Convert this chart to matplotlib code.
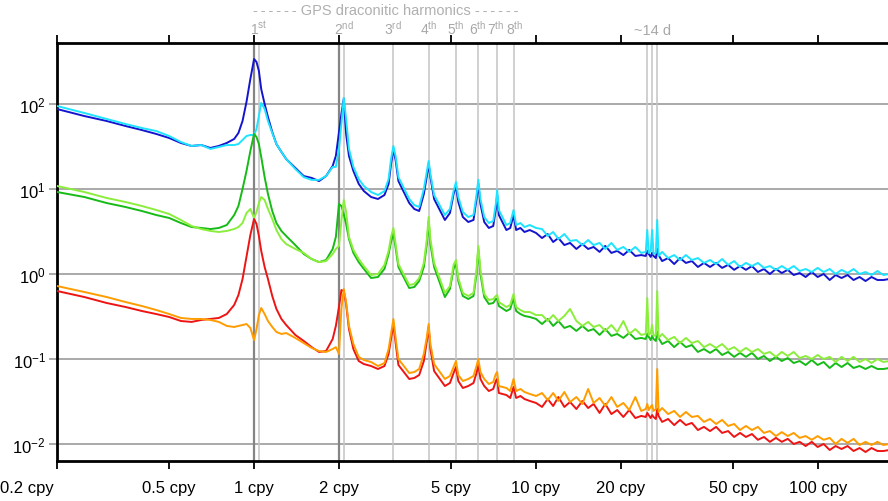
import numpy as np
import matplotlib
matplotlib.use("Agg")
import matplotlib.pyplot as plt
import matplotlib.transforms as mtransforms

plt.rcParams['font.family'] = ['Liberation Sans', 'DejaVu Sans']
plt.rcParams['mathtext.fontset'] = 'custom'
plt.rcParams['mathtext.rm'] = 'Liberation Sans'
plt.rcParams['mathtext.it'] = 'Liberation Sans:italic'
plt.rcParams['mathtext.bf'] = 'Liberation Sans:bold'

# ---------------- data (cpy, PSD) ----------------
freq_low = [0.2, 0.25, 0.3, 0.35, 0.4, 0.45, 0.5, 0.55, 0.6, 0.65, 0.7, 0.75, 0.8, 0.85, 0.88, 0.91,
            0.94, 0.97, 1.0, 1.02, 1.04, 1.06, 1.09, 1.12, 1.16, 1.2, 1.25, 1.3, 1.4, 1.5, 1.6, 1.7,
            1.8, 1.9, 1.95, 2.0, 2.04, 2.08, 2.12, 2.17, 2.25, 2.35, 2.45, 2.6, 2.75, 2.9, 3.0, 3.06,
            3.12, 3.18, 3.25, 3.55, 3.7, 3.85, 4.0, 4.1, 4.16, 4.22, 4.35, 4.75, 4.95, 5.1, 5.2, 5.3,
            5.5, 5.75, 6.0, 6.15, 6.24, 6.35, 6.55, 6.8, 7.05, 7.2, 7.28, 7.38, 7.85, 8.1, 8.32, 8.5,
            8.8, 9.1, 9.5, 10.0]
freq_high = [10.5, 11, 11.5, 12, 12.6, 13.2, 13.9, 14.6, 15.3, 16, 16.8, 17.6, 18.5, 19.4, 20.4,
             21.4, 22.5, 23.6, 24.5, 24.8, 25.1, 25.5, 25.8, 26.1, 26.6, 26.9, 27.2, 28, 29.4, 30.9,
             32.4, 34, 35.7, 37.5, 39.4, 41.4, 43.5, 45.7, 48, 50.4, 52.9, 55.5, 58.3, 61.2, 64.3,
             67.5, 70.9, 74.4, 78.1, 82, 86.1, 90.4, 95, 99.7, 104.7, 110, 115.5, 121.2, 127.3,
             133.7, 140.4, 147.4, 154.8, 162.5, 170.6, 179]

blue_low = [87.3, 72.2, 63.1, 55.1, 49.4, 44.4, 39.8, 34.8, 32.1, 32.9, 30.4, 32.1, 34.8, 38.8, 45.6,
            63.1, 106, 197, 338, 312, 245, 150, 100, 70.3, 46.8, 33.8, 27.3, 22.5, 17.7, 14.2, 13.5,
            12.4, 14.2, 18.7, 24.5, 46.8, 76.3, 115, 44.4, 24.5, 16.3, 11.5, 9.47, 8.05, 7.63, 8.50,
            11.5, 19.7, 29.6, 21.4, 12.4, 6.84, 5.82, 5.51, 8.73, 14.2, 19.7, 13.8, 7.63, 4.32, 5.22,
            8.73, 10.85, 7.03, 4.68, 4.09, 4.32, 7.63, 11.5, 6.66, 4.09, 3.48, 3.67, 5.82, 8.50, 4.94,
            3.29, 3.48, 4.94, 3.29, 3.48, 3.12, 3.29, 3.04]
blue_high = [2.65, 2.95, 2.38, 2.65, 2.19, 2.32, 1.97, 2.25, 1.97, 2.08, 1.82, 2.14, 1.77, 1.87, 1.67,
             1.92, 1.63, 1.67, 1.63, 1.87, 1.72, 1.59, 1.77, 1.63, 1.54, 1.97, 1.67, 1.42, 1.54, 1.31,
             1.54, 1.35, 1.42, 1.21, 1.35, 1.21, 1.35, 1.18, 1.28, 1.12, 1.24, 1.12, 1.24, 1.056, 1.145,
             1.00, 1.145, 1.027, 1.12, 0.973, 1.027, 0.922, 1.056, 0.922, 1.00, 0.850, 0.973, 0.897,
             0.973, 0.850, 0.922, 0.827, 0.922, 0.850, 0.850, 0.873]

cyan_low = [94.7, 78.4, 66.6, 58.2, 52.2, 48.1, 42.0, 35.7, 32.1, 32.9, 29.6, 31.2, 32.9, 32.9, 33.8,
            37.7, 42.0, 43.2, 43.2, 50.8, 72.2, 103, 87.3, 63.1, 45.6, 33.8, 27.3, 22.5, 17.2, 13.8,
            12.8, 12.8, 14.2, 18.2, 18.2, 29.6, 58.2, 118, 66.6, 29.6, 18.2, 13.1, 10.85, 9.22, 8.50,
            9.47, 13.1, 22.5, 32.1, 23.8, 13.8, 7.63, 6.48, 6.14, 10.0, 16.3, 21.4, 15.0, 8.50, 4.94,
            5.82, 9.47, 12.1, 8.05, 5.36, 4.68, 4.94, 8.50, 12.8, 7.63, 4.68, 3.98, 4.20, 6.66, 9.73,
            5.66, 3.77, 3.98, 5.66, 3.77, 3.98, 3.57, 3.77, 3.48]
cyan_high = [3.38, 2.80, 3.12, 2.58, 2.95, 2.45, 2.51, 2.19, 2.51, 2.19, 2.32, 1.97, 2.32, 1.92, 2.08,
             1.82, 2.08, 1.77, 1.82, 3.29, 1.77, 1.87, 3.29, 1.72, 1.77, 4.32, 1.63, 1.82, 1.54, 1.67,
             1.46, 1.67, 1.46, 1.54, 1.35, 1.46, 1.31, 1.50, 1.28, 1.42, 1.21, 1.35, 1.24, 1.35, 1.18,
             1.24, 1.12, 1.24, 1.12, 1.24, 1.085, 1.145, 1.056, 1.18, 1.056, 1.145, 1.00, 1.12, 1.027,
             1.145, 1.00, 1.056, 0.973, 1.085, 0.973, 1.00]

green_low = [9.22, 8.05, 6.84, 6.14, 5.51, 4.94, 4.56, 3.98, 3.57, 3.48, 3.38, 3.48, 3.77, 4.94, 6.31,
             10.0, 16.3, 28.0, 44.4, 40.9, 33.8, 23.8, 13.8, 8.73, 5.51, 3.98, 3.21, 2.80, 2.19, 1.72,
             1.50, 1.38, 1.46, 1.97, 2.73, 6.66, 6.31, 5.08, 3.88, 2.58, 1.77, 1.38, 1.15, 0.897, 0.922,
             1.15, 1.72, 2.38, 3.04, 1.97, 1.21, 0.684, 0.703, 0.827, 1.21, 2.25, 4.20, 2.25, 1.21,
             0.536, 0.666, 1.15, 1.35, 0.827, 0.551, 0.508, 0.551, 1.00, 1.97, 1.00, 0.536, 0.444,
             0.456, 0.508, 0.508, 0.420, 0.367, 0.388, 0.522, 0.367, 0.338, 0.321, 0.312, 0.296]
green_high = [0.258, 0.296, 0.245, 0.280, 0.232, 0.245, 0.214, 0.245, 0.214, 0.225, 0.192, 0.225, 0.187,
              0.197, 0.177, 0.202, 0.172, 0.177, 0.172, 0.197, 0.182, 0.167, 0.187, 0.172, 0.163, 0.208,
              0.177, 0.150, 0.163, 0.138, 0.1585, 0.138, 0.146, 0.121, 0.131, 0.118, 0.131, 0.1115,
              0.121, 0.106, 0.118, 0.106, 0.118, 0.100, 0.1085, 0.0947, 0.106, 0.0947, 0.1027, 0.0897,
              0.0947, 0.0850, 0.0973, 0.0850, 0.0922, 0.0784, 0.0897, 0.0805, 0.0897, 0.0784, 0.0827,
              0.0763, 0.0827, 0.0763, 0.0763, 0.0784]

lime_low = [10.85, 9.22, 7.84, 7.03, 6.31, 5.66, 5.08, 4.32, 3.67, 3.38, 3.21, 3.12, 3.21, 3.38, 3.57,
            3.98, 5.22, 5.82, 4.56, 5.36, 6.84, 8.05, 7.42, 5.82, 4.44, 3.29, 2.58, 2.25, 1.97, 1.77,
            1.50, 1.38, 1.42, 1.72, 1.97, 2.14, 4.20, 7.42, 5.36, 2.73, 1.92, 1.50, 1.24, 0.973, 1.00,
            1.28, 1.87, 2.73, 3.48, 2.19, 1.31, 0.742, 0.763, 0.897, 1.35, 2.58, 4.68, 2.58, 1.35,
            0.598, 0.722, 1.28, 1.46, 0.897, 0.598, 0.551, 0.598, 1.12, 2.14, 1.12, 0.582, 0.494,
            0.508, 0.551, 0.566, 0.468, 0.409, 0.432, 0.582, 0.409, 0.377, 0.357, 0.357, 0.329]
lime_high = [0.329, 0.280, 0.329, 0.280, 0.321, 0.388, 0.280, 0.245, 0.273, 0.238, 0.251, 0.214, 0.251,
             0.208, 0.280, 0.197, 0.225, 0.192, 0.197, 0.522, 0.192, 0.202, 0.251, 0.187, 0.192, 0.631,
             0.177, 0.197, 0.167, 0.182, 0.154, 0.177, 0.154, 0.163, 0.138, 0.150, 0.135, 0.150, 0.128,
             0.138, 0.121, 0.135, 0.121, 0.131, 0.115, 0.121, 0.106, 0.121, 0.1085, 0.121, 0.1027,
             0.1085, 0.100, 0.1115, 0.100, 0.106, 0.0922, 0.106, 0.0947, 0.106, 0.0922, 0.100, 0.0897,
             0.100, 0.0922, 0.0947]

red_low = [0.631, 0.536, 0.456, 0.409, 0.367, 0.338, 0.312, 0.280, 0.273, 0.288, 0.296, 0.304, 0.338,
           0.432, 0.566, 0.873, 1.59, 2.88, 4.44, 3.88, 2.80, 1.87, 1.21, 0.873, 0.551, 0.388, 0.296,
           0.251, 0.192, 0.163, 0.138, 0.121, 0.124, 0.172, 0.245, 0.409, 0.648, 0.631, 0.444, 0.225,
           0.131, 0.0947, 0.0873, 0.0827, 0.0763, 0.0827, 0.115, 0.172, 0.258, 0.150, 0.0850, 0.0582,
           0.0598, 0.0648, 0.0947, 0.163, 0.238, 0.131, 0.0722, 0.0481, 0.0522, 0.0684, 0.0805, 0.0551,
           0.0456, 0.0481, 0.0522, 0.0684, 0.0850, 0.0582, 0.0481, 0.0420, 0.0444, 0.0551, 0.0582,
           0.0398, 0.0377, 0.0348, 0.0468, 0.0348, 0.0367, 0.0338, 0.0321, 0.0304]
red_high = [0.0273, 0.0338, 0.0280, 0.0357, 0.0273, 0.0312, 0.0258, 0.0321, 0.0265, 0.0296, 0.0232,
            0.0296, 0.0225, 0.0251, 0.0208, 0.0251, 0.0202, 0.0214, 0.0208, 0.0232, 0.0219, 0.0202,
            0.0219, 0.0208, 0.0197, 0.0258, 0.0214, 0.0182, 0.0197, 0.0167, 0.0192, 0.0167, 0.0177,
            0.0146, 0.0159, 0.0142, 0.0159, 0.0135, 0.0142, 0.0121, 0.0135, 0.0121, 0.0131, 0.0112,
            0.0121, 0.0106, 0.0118, 0.0106, 0.0115, 0.0100, 0.0106, 0.00947, 0.0106, 0.00922, 0.0100,
            0.00850, 0.00947, 0.00873, 0.00947, 0.00827, 0.00897, 0.00805, 0.00897, 0.00827, 0.00827,
            0.00850]

orange_low = [0.722, 0.614, 0.536, 0.468, 0.420, 0.377, 0.338, 0.304, 0.296, 0.296, 0.288, 0.273, 0.245,
              0.238, 0.245, 0.251, 0.258, 0.232, 0.167, 0.225, 0.329, 0.398, 0.338, 0.280, 0.238, 0.208,
              0.197, 0.202, 0.177, 0.154, 0.135, 0.124, 0.121, 0.131, 0.138, 0.115, 0.388, 0.666, 0.468,
              0.245, 0.150, 0.106, 0.0973, 0.0922, 0.0827, 0.0897, 0.131, 0.197, 0.296, 0.172, 0.100,
              0.0684, 0.0703, 0.0763, 0.115, 0.182, 0.258, 0.150, 0.0873, 0.0582, 0.0631, 0.0805,
              0.0947, 0.0648, 0.0551, 0.0582, 0.0631, 0.0827, 0.100, 0.0703, 0.0582, 0.0508, 0.0536,
              0.0666, 0.0703, 0.0481, 0.0456, 0.0420, 0.0582, 0.0420, 0.0444, 0.0409, 0.0388, 0.0367]
orange_high = [0.0398, 0.0329, 0.0398, 0.0321, 0.0409, 0.0312, 0.0357, 0.0296, 0.0444, 0.0304, 0.0348,
               0.0280, 0.0357, 0.0273, 0.0304, 0.0251, 0.0357, 0.0245, 0.0258, 0.0296, 0.0251, 0.0273,
               0.0288, 0.0245, 0.0258, 0.0763, 0.0238, 0.0265, 0.0225, 0.0245, 0.0208, 0.0238, 0.0208,
               0.0214, 0.0182, 0.0197, 0.0172, 0.0192, 0.0163, 0.0172, 0.0146, 0.0163, 0.0146, 0.0159,
               0.0135, 0.0142, 0.0124, 0.0138, 0.0124, 0.0135, 0.0118, 0.0124, 0.0112, 0.0124, 0.0112,
               0.0118, 0.0100, 0.0115, 0.0103, 0.0115, 0.00973, 0.0106, 0.00973, 0.0106, 0.00973, 0.0100]

annual_freqs = [1.0, 2.0]
draconitic_freqs = [1.04, 2.08, 3.12, 4.16, 5.20, 6.24, 7.28, 8.32]
draconitic_labels = ["1", "2", "3", "4", "5", "6", "7", "8"]
draconitic_suffix = ["st", "nd", "rd", "th", "th", "th", "th", "th"]
fortnight_freqs = [24.8, 25.8, 26.9]
fortnight_label = "~14 d"
dash = "-\u2009" * 5 + "-"
title_text = dash + " GPS draconitic harmonics " + dash

xtick_values = [0.2, 0.5, 1, 2, 5, 10, 20, 50, 100]
xtick_labels = ["0.2 cpy", "0.5 cpy", "1 cpy", "2 cpy", "5 cpy", "10 cpy", "20 cpy", "50 cpy", "100 cpy"]
ytick_values = [1e-2, 1e-1, 1e0, 1e1, 1e2]
ytick_labels = [r"$10^{-2}$", r"$10^{-1}$", r"$10^{0}$", r"$10^{1}$", r"$10^{2}$"]

# ---------------- figure ----------------
W, H = 888, 502
fig = plt.figure(figsize=(W / 100, H / 100), dpi=100)
ax = fig.add_axes([57 / W, 40 / H, (W - 57) / W, 418 / H])
ax.set_xscale('log')
ax.set_yscale('log')
ax.set_xlim(0.2, 177.1)
ax.set_ylim(0.00631, 522)

freqs = freq_low + freq_high
series = [
    (blue_low + blue_high, '#1414cf'),
    (cyan_low + cyan_high, '#1ee4ff'),
    (green_low + green_high, '#16bb16'),
    (lime_low + lime_high, '#8cee3c'),
    (red_low + red_high, '#ee1414'),
    (orange_low + orange_high, '#ff9d00'),
]
for vals, col in series:
    ax.plot(freqs, vals, color=col, lw=1.4, zorder=4, solid_joinstyle='round')

# horizontal grid
for yv in ytick_values:
    ax.axhline(yv, color='#a3a3a3', lw=1.3, zorder=1)
# vertical marker lines
for f in annual_freqs:
    ax.axvline(f, color='#858585', lw=1.6, zorder=2)
for f in draconitic_freqs + fortnight_freqs:
    ax.axvline(f, color='#c4c4c4', lw=1.1, zorder=2)

# ticks
ax.xaxis.set_major_locator(matplotlib.ticker.FixedLocator(xtick_values))
ax.xaxis.set_minor_locator(matplotlib.ticker.NullLocator())
ax.set_xticklabels([""] + xtick_labels[1:])
ax.yaxis.set_major_locator(matplotlib.ticker.FixedLocator(ytick_values))
ax.yaxis.set_minor_locator(matplotlib.ticker.NullLocator())
ax.set_yticklabels(ytick_labels)
ax.tick_params(axis='x', which='major', direction='out', length=5.5, width=1.3, color='black',
               top=True, labeltop=False, labelsize=12, pad=8)
ax.tick_params(axis='y', which='major', direction='out', length=6, width=1.3, color='#a3a3a3',
               labelsize=12, pad=2)

# first x label sits left of its tick (as in the reference)
first_tr = mtransforms.offset_copy(ax.get_xaxis_transform(), fig=fig, x=-2, y=-13.5, units='points')
ax.text(xtick_values[0], 0, xtick_labels[0], transform=first_tr, ha='right', va='top',
        fontsize=12, color='black', clip_on=False)

for sp in ['left', 'bottom', 'top']:
    ax.spines[sp].set_linewidth(2.0)
    ax.spines[sp].set_color('black')
ax.spines['right'].set_visible(False)

# harmonic labels above the frame
lab_tr = mtransforms.blended_transform_factory(ax.transData, ax.transAxes)
lab_y = (462 - 35) / 418
label_shift_px = [0, 0, 0, 0, 0, -1, -1.5, 1.5]
for f, n, s, dx in zip(draconitic_freqs, draconitic_labels, draconitic_suffix, label_shift_px):
    tr = mtransforms.offset_copy(lab_tr, fig=fig, x=dx, y=0, units='dots')
    ax.text(f, lab_y, n + r"$^{\rm " + s + "}$", transform=tr, ha='center', va='baseline',
            fontsize=10, color='#a8a8a8', clip_on=False)
ax.text(fortnight_freqs[1], lab_y, fortnight_label, transform=lab_tr, ha='center', va='baseline',
        fontsize=10.5, color='#a8a8a8', clip_on=False)
fig.text(386 / W, (H - 15) / H, title_text, ha='center', va='baseline', fontsize=10.5,
         color='#b0b0b0')

fig.savefig('out.png', dpi=100)
